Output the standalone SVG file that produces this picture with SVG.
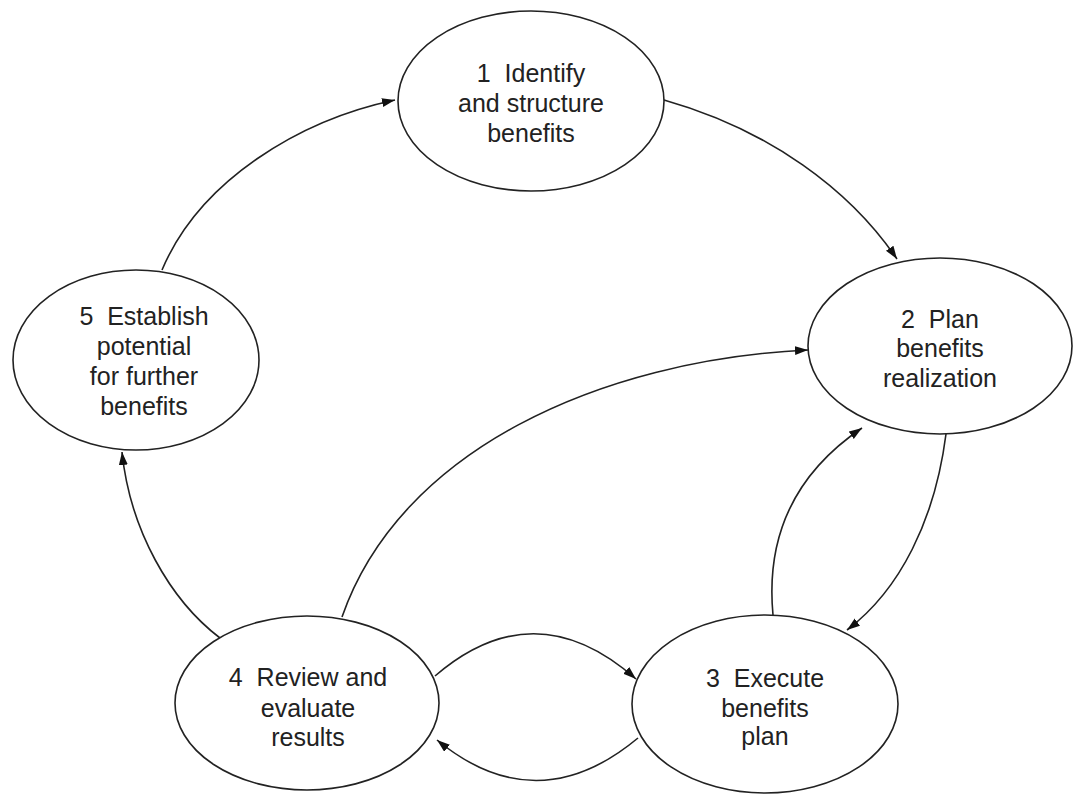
<svg xmlns="http://www.w3.org/2000/svg" width="1073" height="796" viewBox="0 0 1073 796">
<style>
.node ellipse{fill:#fff;stroke:#222;stroke-width:1.6}
.node text{font-family:"Liberation Sans",Arial,sans-serif;font-size:25px;fill:#222;text-anchor:middle}
.conn path{fill:none;stroke:#222;stroke-width:1.6}
</style>
<defs>
<marker id="ah" markerUnits="userSpaceOnUse" markerWidth="14" markerHeight="10" refX="13" refY="4.5" orient="auto">
<path d="M0,0 L13,4.5 L0,9 z" fill="#111"/>
</marker>
</defs>
<rect width="1073" height="796" fill="#fff"/>
<g class="conn">
<path d="M162,270 C200,180 300,120 395,100" marker-end="url(#ah)"/>
<path d="M664,100 C770,130 850,190 897,259" marker-end="url(#ah)"/>
<path d="M342,617 C400,450 600,360 808,350" marker-end="url(#ah)"/>
<path d="M946,434 C935,520 900,590 847,630" marker-end="url(#ah)"/>
<path d="M773,615 C765,530 800,470 862,428" marker-end="url(#ah)"/>
<path d="M220,638 C170,600 130,530 122,452" marker-end="url(#ah)"/>
<path d="M435,676 Q535,590 636,679" marker-end="url(#ah)"/>
<path d="M638,738 Q537,822 437,740" marker-end="url(#ah)"/>
</g>
<g id="n1" class="node">
<ellipse cx="531" cy="101" rx="133" ry="90"/>
<text x="531" y="82" xml:space="preserve">1  Identify</text>
<text x="531" y="112">and structure</text>
<text x="531" y="142">benefits</text>
</g>
<g id="n2" class="node">
<ellipse cx="940" cy="346" rx="132" ry="88"/>
<text x="940" y="328" xml:space="preserve">2  Plan</text>
<text x="940" y="357">benefits</text>
<text x="940" y="387">realization</text>
</g>
<g id="n3" class="node">
<ellipse cx="765" cy="704" rx="133" ry="89"/>
<text x="765" y="687" xml:space="preserve">3  Execute</text>
<text x="765" y="717">benefits</text>
<text x="765" y="745">plan</text>
</g>
<g id="n4" class="node">
<ellipse cx="307" cy="703" rx="132" ry="87"/>
<text x="308" y="686" xml:space="preserve">4  Review and</text>
<text x="308" y="717">evaluate</text>
<text x="308" y="746">results</text>
</g>
<g id="n5" class="node">
<ellipse cx="136" cy="360" rx="123" ry="90"/>
<text x="144" y="325" xml:space="preserve">5  Establish</text>
<text x="144" y="355">potential</text>
<text x="144" y="385">for further</text>
<text x="144" y="415">benefits</text>
</g>
</svg>
